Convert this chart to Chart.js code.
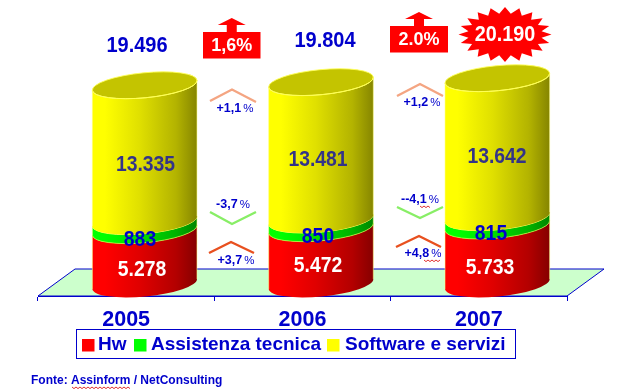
<!DOCTYPE html>
<html><head><meta charset="utf-8">
<script src="https://cdn.jsdelivr.net/npm/chart.js@4"></script>
<style>html,body{margin:0;padding:0;background:#fff}canvas{display:block}</style>
</head><body><canvas id="c" width="624" height="390"></canvas>
<script>
const categories = ['2005','2006','2007'];
const hw = [5278,5472,5733];
const assistenza = [883,850,815];
const software = [13335,13481,13642];
const totals = ['19.496','19.804','20.190'];
const seriesNames = ['Hw','Assistenza tecnica','Software e servizi'];
const seriesColors = ['#ff0000','#00ff00','#ffff00'];
const growthTotal = ['1,6%','2.0%'];
const growthSoftware = ['+1,1%','+1,2%'];
const growthAssistenza = ['-3,7%','--4,1%'];
const growthHw = ['+3,7%','+4,8%'];
const source = 'Fonte: Assinform / NetConsulting';

const BLUE='#0000cc', NAVY='#333388', FONT='"Liberation Sans", Arial, sans-serif';
const SHIFT=18.5, DEPTH_X=37, DEPTH_Y=27, MINOR=12.5, ROT=-5.5*Math.PI/180;

function shade(hex,f){
  const n=parseInt(hex.slice(1),16);
  return `rgb(${Math.round((n>>16&255)*f)},${Math.round((n>>8&255)*f)},${Math.round((n&255)*f)})`;
}
function text(ctx,s,x,y,font,color,align){
  ctx.font=font;ctx.fillStyle=color;ctx.textAlign=align||'center';ctx.textBaseline='middle';ctx.fillText(s,x,y);
}
function narrowText(ctx,s,x,y,size,xs,color){
  ctx.save();ctx.translate(x,y);ctx.scale(xs,1);
  text(ctx,s,0,0,'bold '+size+'px '+FONT,color);
  ctx.restore();
}
function squiggle(ctx,x0,x1,y){
  ctx.beginPath();ctx.strokeStyle='#e03030';ctx.lineWidth=1;
  let up=false;ctx.moveTo(x0,y);
  for(let x=x0+2;x<=x1;x+=2){ctx.lineTo(x,up?y:y+1.6);up=!up;}
  ctx.stroke();
}
function chevron(ctx,p,color){
  ctx.beginPath();ctx.moveTo(p[0],p[1]);ctx.lineTo(p[2],p[3]);ctx.lineTo(p[4],p[5]);
  ctx.strokeStyle=color;ctx.lineWidth=2.4;ctx.lineJoin='miter';ctx.stroke();
}
function pctLabel(ctx,s,cx,cy){
  const num=s.slice(0,-1);
  ctx.font='bold 12.5px '+FONT;const w1=ctx.measureText(num).width;
  ctx.font='11.5px '+FONT;const w2=ctx.measureText('%').width;
  const x=cx-(w1+w2+2)/2;
  text(ctx,num,x,cy,'bold 12.5px '+FONT,BLUE,'left');
  text(ctx,'%',x+w1+2,cy,'11.5px '+FONT,BLUE,'left');
}
function arrowBox(ctx,b,label){
  ctx.fillStyle='#ff0000';
  ctx.fillRect(b.x,b.y,b.w,b.h);
  const c=b.x+b.w/2;
  ctx.beginPath();
  ctx.moveTo(c-5,b.y);ctx.lineTo(c-5,b.y-7);ctx.lineTo(c-14,b.y-7);ctx.lineTo(c,b.y-14);
  ctx.lineTo(c+14,b.y-7);ctx.lineTo(c+5,b.y-7);ctx.lineTo(c+5,b.y);ctx.closePath();ctx.fill();
  text(ctx,label,c,b.y+b.h/2+.5,'bold 18px '+FONT,'#ffffff');
}
function burst(ctx,cx,cy,rx,ry,irx,iry,n){
  ctx.beginPath();
  for(let i=0;i<n*2;i++){
    const a=Math.PI*i/n, o=i%2===0;
    const X=cx+(o?rx:irx)*Math.cos(a), Y=cy+(o?ry:iry)*Math.sin(a);
    i?ctx.lineTo(X,Y):ctx.moveTo(X,Y);
  }
  ctx.closePath();ctx.fillStyle='#ff0000';ctx.fill();
}

const cylinderPlugin={
  id:'cylinders',
  beforeDatasetsDraw(chart){
    const ctx=chart.ctx,a=chart.chartArea;
    ctx.save();
    ctx.beginPath();
    ctx.moveTo(a.left,a.bottom);ctx.lineTo(a.left+DEPTH_X,a.bottom-DEPTH_Y);
    ctx.lineTo(a.right+DEPTH_X,a.bottom-DEPTH_Y);ctx.lineTo(a.right,a.bottom);ctx.closePath();
    ctx.fillStyle='#ccffcc';ctx.fill();ctx.strokeStyle='#0000cc';ctx.lineWidth=1;ctx.stroke();
    chart.data.datasets.forEach((ds,di)=>{
      const meta=chart.getDatasetMeta(di);
      meta.data.forEach(el=>{
        const cx=el.x+SHIFT,r=el.width/2,dx=r*Math.cos(ROT),dy=r*Math.sin(ROT);
        const g=ctx.createLinearGradient(cx-r,0,cx+r,0);
        g.addColorStop(0,shade(ds.backgroundColor,1));
        g.addColorStop(.12,shade(ds.backgroundColor,1));
        g.addColorStop(.45,shade(ds.backgroundColor,.88));
        g.addColorStop(.8,shade(ds.backgroundColor,.7));
        g.addColorStop(1,shade(ds.backgroundColor,.52));
        ctx.beginPath();
        ctx.moveTo(cx-dx,el.y-dy);
        ctx.lineTo(cx-dx,el.base-dy);
        ctx.ellipse(cx,el.base,r,MINOR,ROT,Math.PI,0,true);
        ctx.lineTo(cx+dx,el.y+dy);
        ctx.ellipse(cx,el.y,r,MINOR,ROT,0,Math.PI,false);
        ctx.closePath();
        ctx.fillStyle=g;ctx.fill();
        ctx.beginPath();
        ctx.moveTo(cx-dx,el.y-dy);ctx.lineTo(cx-dx,el.base-dy);
        ctx.moveTo(cx+dx,el.y+dy);ctx.lineTo(cx+dx,el.base+dy);
        ctx.strokeStyle='rgba(255,255,130,.55)';ctx.lineWidth=1;ctx.stroke();
        if(di===chart.data.datasets.length-1){
          ctx.beginPath();ctx.ellipse(cx,el.y,r,MINOR,ROT,0,Math.PI*2);
          ctx.fillStyle='#c4c400';ctx.fill();
          ctx.strokeStyle='rgba(255,255,90,.9)';ctx.lineWidth=1;ctx.stroke();
        }
        if(di>0){
          ctx.beginPath();ctx.ellipse(cx,el.y,r,MINOR,ROT,0,Math.PI,false);
          ctx.strokeStyle='#ffff55';ctx.lineWidth=1;ctx.stroke();
        }
        if(di===1){
          ctx.beginPath();ctx.ellipse(cx,el.base,r,MINOR,ROT,0,Math.PI,false);
          ctx.strokeStyle='rgba(200,255,60,.7)';ctx.lineWidth=1;ctx.stroke();
        }
      });
    });
    ctx.restore();
    return false;
  },
  afterDraw(chart){
    const ctx=chart.ctx;
    ctx.save();
    const valuePos=[[[142,270],[318,266],[490,268]],[[140,240],[318,237],[491,234]],[[145.5,165],[318,160],[497,157]]];
    const valueStyle=['#ffffff',BLUE,NAVY];
    chart.data.datasets.forEach((ds,di)=>ds.data.forEach((v,i)=>{
      const s=String(v).replace(/(\d)(\d{3})$/,'$1.$2');
      narrowText(ctx,s,valuePos[di][i][0],valuePos[di][i][1],22,.88,valueStyle[di]);
    }));
    narrowText(ctx,totals[0],137,46,22,.91,BLUE);
    narrowText(ctx,totals[1],325,41,22,.91,BLUE);
    burst(ctx,505,34.5,46.5,27.5,37,21,20);
    narrowText(ctx,totals[2],505,35,21.5,.92,'#ffffff');
    arrowBox(ctx,{x:203,y:32,w:57.5,h:26.5},growthTotal[0]);
    arrowBox(ctx,{x:390,y:26,w:58,h:26.5},growthTotal[1]);
    const UP_S='#f4a582',MID='#88ee66',UP_H='#e8501f';
    chevron(ctx,[210,101,232,89.5,256,102],UP_S);
    chevron(ctx,[397,96,420,84,443,96],UP_S);
    chevron(ctx,[210,212,232,224,256,212],MID);
    chevron(ctx,[397,207,420,218,443,207],MID);
    chevron(ctx,[209,253,231,242,254,253],UP_H);
    chevron(ctx,[396,247,419,236,441,247],UP_H);
    pctLabel(ctx,growthSoftware[0],235,109);
    pctLabel(ctx,growthSoftware[1],422,103);
    pctLabel(ctx,growthAssistenza[0],233,205);
    pctLabel(ctx,growthAssistenza[1],420,200);
    pctLabel(ctx,growthHw[0],236,261);
    pctLabel(ctx,growthHw[1],423,254);
    squiggle(ctx,420,431,206);squiggle(ctx,424,441,260);
    ctx.fillStyle='#ffffff';ctx.fillRect(76.5,329.5,439,29);
    ctx.strokeStyle=BLUE;ctx.lineWidth=1;ctx.strokeRect(76.5,329.5,439,29);
    const lx=[[82,98],[134,151],[327,345]];
    seriesNames.forEach((n,i)=>{
      ctx.fillStyle=seriesColors[i];ctx.fillRect(lx[i][0],339,12.5,12.5);
      text(ctx,n,lx[i][1],344.5,'bold 19px '+FONT,BLUE,'left');
    });
    text(ctx,source,31,381,'bold 12px '+FONT,BLUE,'left');
    squiggle(ctx,72,130,387);
    ctx.restore();
  }
};

new Chart(document.getElementById('c'),{
  type:'bar',
  data:{labels:categories,datasets:[
    {label:seriesNames[0],data:hw,backgroundColor:seriesColors[0]},
    {label:seriesNames[1],data:assistenza,backgroundColor:seriesColors[1]},
    {label:seriesNames[2],data:software,backgroundColor:seriesColors[2]}
  ]},
  options:{
    responsive:false,animation:false,
    layout:{padding:{left:38,right:57,top:20,bottom:0}},
    datasets:{bar:{barPercentage:1,categoryPercentage:.596}},
    plugins:{legend:{display:false},tooltip:{enabled:false}},
    scales:{
      x:{stacked:true,
        afterFit(s){s.height=94;},
        grid:{drawOnChartArea:false,color:BLUE,tickLength:5},
        border:{color:BLUE},
        ticks:{color:BLUE,padding:6,font:{family:FONT,weight:'bold',size:21.5},maxRotation:0}},
      y:{stacked:true,display:false,min:-1176,max:25900}
    }
  },
  plugins:[cylinderPlugin]
});
</script></body></html>
